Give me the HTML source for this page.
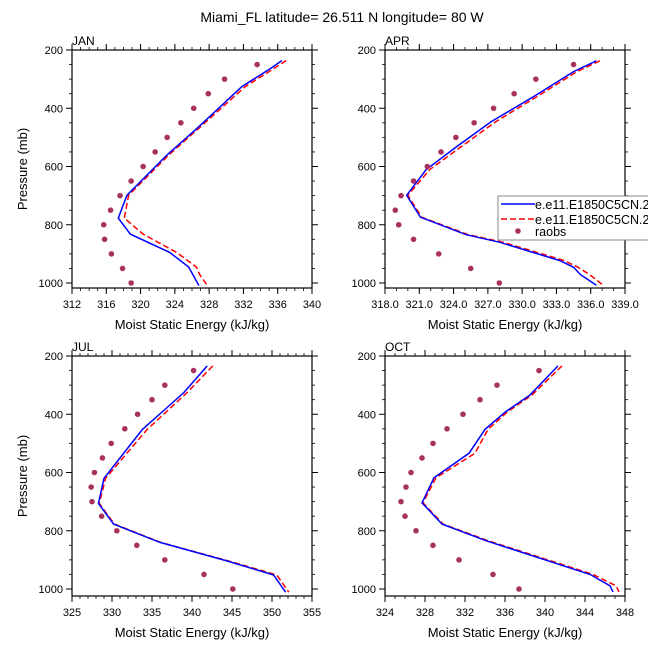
<!DOCTYPE html>
<html><head><meta charset="utf-8"><style>
body{margin:0;background:#fff;overflow:hidden;}
svg{display:block;font-family:"Liberation Sans",sans-serif;}
</style></head><body>
<svg id="c" width="648" height="648" viewBox="0 0 648 648" xmlns="http://www.w3.org/2000/svg">
<text x="342" y="22" font-size="14" text-anchor="middle">Miami_FL  latitude= 26.511 N longitude= 80 W</text>
</svg>
<script>
// ---- data ----
const janObsP=[250,300,350,400,450,500,550,600,650,700,750,800,850,900,950,1000];
const janObs=[333.6,329.8,327.9,326.2,324.7,323.1,321.7,320.3,318.9,317.6,316.5,315.7,315.8,316.6,317.9,318.9];
const janModP=[236,263,326,400,474,560,699,777,832,895,945,971,1009];
const janBlue=[336.5,335.2,331.8,329.1,326.4,323.1,318.4,317.4,318.8,323.4,325.6,326.1,326.8];
const janRed=[337.0,335.6,332.2,329.4,326.6,323.3,318.6,318.1,320.3,324.2,326.5,326.9,327.8];

const aprObs=[334.5,331.2,329.3,327.5,325.8,324.2,322.9,321.7,320.5,319.4,318.9,319.2,320.5,322.7,325.5,328.0];
const aprModP=[237,274,360,446,531,611,699,774,834,860,923,946,971,1008];
const aprBlue=[336.5,334.5,331.0,327.3,324.3,321.6,319.9,321.1,325.1,328.0,333.3,334.5,335.1,336.5];
const aprRed=[336.8,334.8,331.3,327.7,324.7,321.9,320.0,321.2,325.3,328.3,333.7,334.9,335.9,337.1];

const julObs=[340.2,336.6,335.0,333.2,331.6,329.9,328.8,327.8,327.4,327.5,328.7,330.6,333.1,336.6,341.5,345.1];
const julModP=[234,325,389,452,620,706,777,840,904,952,1011];
const julBlue=[341.9,339.0,336.4,333.8,329.0,328.3,330.2,336.0,344.4,350.2,351.7];
const julRed=[342.6,339.4,336.9,334.4,329.2,328.4,330.3,336.1,344.6,350.6,352.1];

const octObs=[339.4,335.2,333.5,331.8,330.2,328.8,327.7,326.6,326.1,325.6,326.0,327.1,328.8,331.4,334.8,337.4];
const octModP=[234,334,393,452,534,618,704,777,834,950,989,1010];
const octBlue=[341.3,338.5,336.0,334.0,332.4,328.9,327.7,329.7,334.1,344.5,346.5,346.8];
const octRed=[341.7,338.7,336.2,334.3,333.0,329.1,327.8,329.8,334.3,344.8,347.1,347.4];

const janTicks=[312,316,320,324,328,332,336,340];
const aprTicks=[318,321,324,327,330,333,336,339];
const julTicks=[325,330,335,340,345,350,355];
const octTicks=[324,328,332,336,340,344,348];
const pTicks=[200,400,600,800,1000];

const svg=document.getElementById('c');
const NS='http://www.w3.org/2000/svg';
function mk(tag,attrs,parent){const e=document.createElementNS(NS,tag);for(const k in attrs)e.setAttribute(k,attrs[k]);(parent||svg).appendChild(e);return e;}

function panel(o){
  const g=mk('g',{});
  
  
  const xs=v=>o.x0+(v-o.xmin)/(o.xmax-o.xmin)*(o.x1-o.x0);
  const ys=p=>o.y200+(p-200)/800*(o.y1000-o.y200);
  const yb=o.yb;
  for(let v=o.xmin;v<=o.xmax+1e-6;v+=o.minor){
    const X=xs(v);
    const t1=mk('line',{x1:X,x2:X,y1:yb,y2:yb+3,stroke:'#000','stroke-width':0.8},g);
    
    const t2=mk('line',{x1:X,x2:X,y1:o.y200,y2:o.y200-3,stroke:'#000','stroke-width':0.8},g);
    
  }
  o.ticks.forEach(v=>{
    const X=xs(v);
    const t=mk('line',{x1:X,x2:X,y1:yb,y2:yb+6,stroke:'#000','stroke-width':1},g);
    
    const t2=mk('line',{x1:X,x2:X,y1:o.y200,y2:o.y200-6,stroke:'#000','stroke-width':1},g);
    
    const l=mk('text',{x:X,y:yb+20,'font-size':11,'text-anchor':'middle'},g);
    l.textContent=o.dec?v.toFixed(1):String(v);
    
  });
  for(let p=250;p<=1000;p+=50){
    if(p%200===0)continue;
    const Y=ys(p);
    const a=mk('line',{x1:o.x0-3,x2:o.x0,y1:Y,y2:Y,stroke:'#000','stroke-width':0.8},g);
    
    const b=mk('line',{x1:o.x1,x2:o.x1+3,y1:Y,y2:Y,stroke:'#000','stroke-width':0.8},g);
    
  }
  pTicks.forEach(p=>{
    const Y=ys(p);
    const a=mk('line',{x1:o.x0-6,x2:o.x0,y1:Y,y2:Y,stroke:'#000','stroke-width':1},g);
    
    const b=mk('line',{x1:o.x1,x2:o.x1+6,y1:Y,y2:Y,stroke:'#000','stroke-width':1},g);
    
    const l=mk('text',{x:o.x0-9,y:Y+4,'font-size':11,'text-anchor':'end'},g);
    l.textContent=String(p);
    
  });
  const fr=mk('rect',{x:o.x0,y:o.y200,width:o.x1-o.x0,height:yb-o.y200,fill:'none',stroke:'#000','stroke-width':1.2},g);
  
  const ttl=mk('text',{x:o.x0,y:o.y200-5,'font-size':12},g);
  ttl.textContent=o.label;
  
  const xl=mk('text',{x:(o.x0+o.x1)/2,y:yb+41,'font-size':13,'text-anchor':'middle'},g);
  xl.textContent='Moist Static Energy (kJ/kg)';
  
  if(o.ylab){
    const cy=(o.y200+yb)/2;
    const yl=mk('text',{x:27,y:cy,'font-size':13,'text-anchor':'middle',transform:'rotate(-90 27 '+cy+')'},g);
    yl.textContent='Pressure (mb)';
    
  }
  const line=(vals,col,dash,nm)=>{
    const d=vals.map((v,i)=>(i?'L':'M')+xs(v).toFixed(1)+','+ys(o.modP[i]).toFixed(1)).join(' ');
    const a={d:d,fill:'none',stroke:col,'stroke-width':1.5};
    if(dash)a['stroke-dasharray']=dash;
    const p=mk('path',a,g);
    
  };
  line(o.red,'#f00','6,3','model-line-red');
  line(o.blue,'#00f',null,'model-line-blue');
  o.obs.forEach((v,i)=>{
    const c=mk('circle',{cx:xs(v),cy:ys(janObsP[i]),r:2.8,fill:'#a8325f'},g);
    
  });
}
panel({name:'jan',label:'JAN',x0:72,x1:312,xmin:312,xmax:340,minor:1,ticks:janTicks,y200:50,y1000:283,yb:288,obs:janObs,modP:janModP,blue:janBlue,red:janRed,ylab:true});
panel({name:'apr',label:'APR',x0:385,x1:625,xmin:318,xmax:339,minor:1,ticks:aprTicks,dec:true,y200:50,y1000:283,yb:288,obs:aprObs,modP:aprModP,blue:aprBlue,red:aprRed});
panel({name:'jul',label:'JUL',x0:72,x1:312,xmin:325,xmax:355,minor:1,ticks:julTicks,y200:356,y1000:589,yb:596,obs:julObs,modP:julModP,blue:julBlue,red:julRed,ylab:true});
panel({name:'oct',label:'OCT',x0:385,x1:625,xmin:324,xmax:348,minor:1,ticks:octTicks,y200:356,y1000:589,yb:596,obs:octObs,modP:octModP,blue:octBlue,red:octRed});

// legend
const lg=mk('g',{});


const bx=mk('rect',{x:498,y:196,width:170,height:44,fill:'#fff',stroke:'#888','stroke-width':1},lg);

const e1=mk('line',{x1:501,x2:535,y1:204,y2:204,stroke:'#00f','stroke-width':1.5},lg);

const e2=mk('line',{x1:501,x2:535,y1:219,y2:219,stroke:'#f00','stroke-width':1.5,'stroke-dasharray':'6,3'},lg);

const e3=mk('circle',{cx:518,cy:231,r:2.8,fill:'#a8325f'},lg);

[['e.e11.E1850C5CN.2',209],['e.e11.E1850C5CN.2',224],['raobs',236]].forEach(t=>{
  const x=mk('text',{x:535,y:t[1],'font-size':12.5},lg);
  x.textContent=t[0];
  
  
});
</script>
</body></html>
